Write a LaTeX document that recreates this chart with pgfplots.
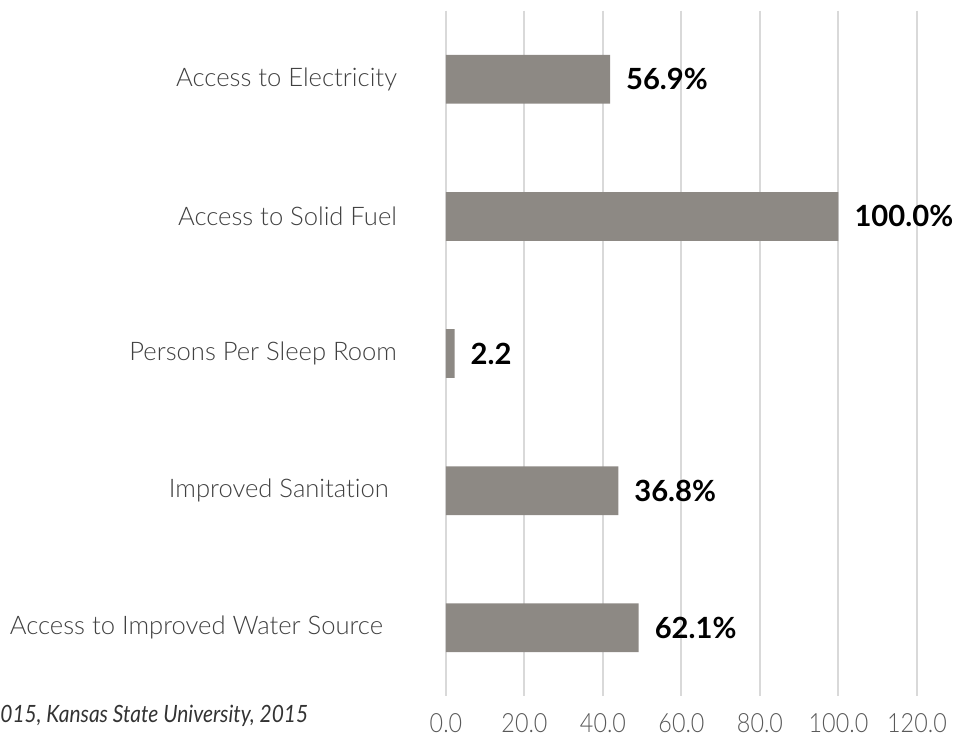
\documentclass[border=0pt]{standalone}
\usepackage{pgfplots}
\pgfplotsset{compat=1.18}
\usepackage{fontspec}
\setmainfont{Lato}[UprightFont={* Light}, BoldFont={* Bold}, ItalicFont={* Italic}, Ligatures={NoCommon}]
\newfontfamily\narrowfont{Lato}[UprightFont={* Light}, ItalicFont={* Italic}, FakeStretch=0.88, Ligatures={NoCommon}]
\definecolor{barfill}{HTML}{8D8984}
\definecolor{gridc}{HTML}{D9D9D9}
\definecolor{cattext}{HTML}{404040}
\definecolor{ticktext}{HTML}{595959}
\definecolor{foottext}{HTML}{333333}
\begin{document}
\begin{tikzpicture}
\begin{axis}[
  name=ax,
  scale only axis,
  width=235.5pt, height=342.85pt,
  xbar,
  bar width=24.35pt,
  xmin=0, xmax=120,
  ymin=-0.5, ymax=4.5,
  y dir=reverse,
  ytick={0,1,2,3,4},
  yticklabels={Access to Electricity, Access to Solid Fuel, Persons Per Sleep Room, {Improved Sanitation\rule{4pt}{0pt}}, {Access to Improved Water Source\rule{7pt}{0pt}}},
  xtick={0,20,40,60,80,100,120},
  xticklabel={\pgfmathprintnumber[fixed,fixed zerofill,precision=1]{\tick}},
  /pgf/number format/assume math mode=true,
  axis line style={draw=none},
  major tick length=0pt,
  xmajorgrids,
  ymajorgrids=false,
  grid style={draw=gridc, line width=1pt},
  yticklabel style={font=\fontsize{12.8}{15}\selectfont, text=cattext, xshift=-21pt},
  xticklabel style={font=\narrowfont\fontsize{13.25}{16}\selectfont, text=ticktext, yshift=-5pt},
  point meta=explicit symbolic,
  nodes near coords,
  nodes near coords style={font=\bfseries\fontsize{14.6}{17}\selectfont, text=black, anchor=west, xshift=4.5pt},
  clip=false,
]
\addplot[fill=barfill, draw=none] coordinates {
  (41.8,0) [56.9\%]
  (100.0,1) [100.0\%]
  (2.2,2) [2.2]
  (43.9,3) [36.8\%]
  (49.1,4) [62.1\%]
};
\end{axis}
\node[anchor=base west, xshift=-223pt, yshift=-13.2pt, inner sep=0pt, font=\narrowfont\itshape\fontsize{11.9}{14}\selectfont, text=foottext] at (ax.south west) {015, Kansas State University, 2015};
\pgfresetboundingbox
\path ([xshift=-223pt,yshift=-19.2pt]ax.south west) rectangle ([xshift=18.5pt,yshift=5.35pt]ax.north east);
\end{tikzpicture}
\end{document}
